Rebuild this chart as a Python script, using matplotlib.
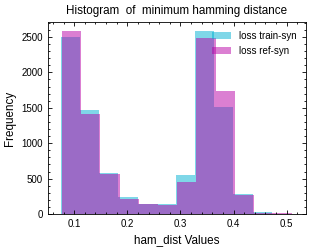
import numpy as np
import matplotlib
matplotlib.use('Agg')
import matplotlib.pyplot as plt
from matplotlib.ticker import AutoMinorLocator

# bin edges and counts
TRAIN_EDGES = [0.0750, 0.1111, 0.1471, 0.1832, 0.2193, 0.2554, 0.2914,
               0.3275, 0.3636, 0.3996, 0.4357, 0.4718]
TRAIN_COUNTS = [2500, 1470, 580, 234, 140, 136, 548, 2583, 1516, 280, 30]

REF_EDGES = [0.0768, 0.1130, 0.1491, 0.1853, 0.2215, 0.2577, 0.2938,
             0.3300, 0.3662, 0.4023, 0.4385, 0.4747, 0.5108]
REF_COUNTS = [2580, 1414, 571, 218, 140, 128, 447, 2480, 1741, 267, 20, 12]

LABELS = ['loss train-syn', 'loss ref-syn']

plt.rcParams['font.family'] = ['Liberation Sans', 'DejaVu Sans']
plt.rcParams['axes.linewidth'] = 0.6

fig = plt.figure(figsize=(3.09, 2.5), dpi=100)
ax = fig.add_axes([0.155, 0.144, 0.834, 0.768])

ax.hist(TRAIN_EDGES[:-1], bins=TRAIN_EDGES, weights=TRAIN_COUNTS,
        color='#00b0d2', alpha=0.5, label=LABELS[0])
ax.hist(REF_EDGES[:-1], bins=REF_EDGES, weights=REF_COUNTS,
        color='#b800a6', alpha=0.5, label=LABELS[1])

ax.set_xlim(0.0505, 0.5355)
ax.set_title('Histogram  of  minimum hamming distance', fontsize=8.4)
ax.set_xlabel('ham_dist Values', fontsize=8.4)
ax.set_ylabel('Frequency', fontsize=8.4)

ax.xaxis.set_minor_locator(AutoMinorLocator(5))
ax.yaxis.set_minor_locator(AutoMinorLocator(5))
ax.tick_params(which='both', direction='in', top=True, right=True,
               labelsize=7, width=0.6)
ax.tick_params(which='major', length=3)
ax.tick_params(which='minor', length=1.5)

ax.legend(loc='upper right', fontsize=7, frameon=False)

fig.savefig('out.png', dpi=100)
plt.close()
